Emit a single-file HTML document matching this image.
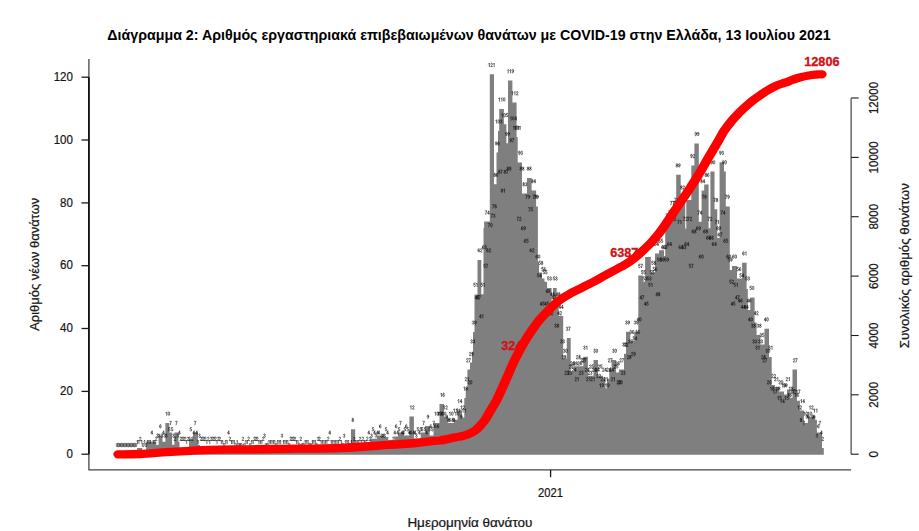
<!DOCTYPE html>
<html><head><meta charset="utf-8"><title>chart</title>
<style>
html,body{margin:0;padding:0;background:#fff;}
svg{display:block;font-family:"Liberation Sans",sans-serif;}
.ax line{stroke:#1c1c1c;}
.tl text{font-size:12px;fill:#161616;stroke:#161616;stroke-width:0.22px;}
.lb text{font-size:5.2px;fill:#000;stroke:#000;stroke-width:0.1px;text-anchor:middle;text-rendering:geometricPrecision;}
.rd text{font-size:12.7px;font-weight:bold;fill:#d01218;stroke:#d01218;stroke-width:0.35px;}
</style></head><body>
<svg width="919" height="531" viewBox="0 0 919 531">
<rect width="919" height="531" fill="#fff"/>
<text x="107.3" y="39.6" font-size="14" font-weight="bold" fill="#000" textLength="723.4" lengthAdjust="spacingAndGlyphs">Διάγραμμα 2: Αριθμός εργαστηριακά επιβεβαιωμένων θανάτων με COVID-19 στην Ελλάδα, 13 Ιουλίου 2021</text>
<polygon points="137.1,454.7 137.1,448.0 142.2,448.0 142.2,451.0 146.2,451.0 146.2,441.8 156.3,441.8 156.3,445.0 158.6,445.0 158.6,435.6 162.5,435.6 162.5,441.8 165.4,441.8 165.4,423.0 169.3,423.0 169.3,432.4 172.1,432.4 172.1,444.8 174.4,444.8 174.4,432.4 178.4,432.4 178.4,441.8 179.5,441.8 179.5,448.5 189.0,448.5 189.0,438.7 193.0,438.7 193.0,432.4 198.0,432.4 198.0,445.0 200.0,445.0 200.0,448.5 351.0,448.5 351.0,429.2 355.2,429.2 355.2,445.5 370.2,445.5 370.2,438.7 377.0,438.7 377.0,435.5 383.8,435.5 383.8,437.0 388.3,437.0 388.3,442.5 394.3,442.5 394.3,436.5 398.0,436.5 398.0,432.4 404.0,432.4 404.0,435.5 409.4,435.5 409.4,416.6 413.9,416.6 413.9,438.6 420.7,438.6 420.7,432.4 425.2,432.4 425.2,426.0 429.7,426.0 429.7,435.5 433.5,435.5 433.5,422.9 439.5,422.9 439.5,404.0 444.0,404.0 444.0,416.6 447.8,416.6 447.8,422.9 453.8,422.9 453.8,419.7 457.6,419.7 457.6,410.3 462.0,410.3 462.0,417.6 464.3,417.6 464.3,398.0 465.7,398.0 465.7,387.8 467.4,387.8 467.4,369.4 470.0,369.4 470.0,362.5 472.0,362.5 472.0,352.0 473.0,352.0 473.0,332.0 474.5,332.0 474.5,294.5 477.5,294.5 477.5,260.0 481.3,260.0 481.3,294.2 483.5,294.2 483.5,228.0 484.1,228.0 484.1,221.6 489.8,221.6 489.8,74.3 494.0,74.3 494.0,184.2 496.5,184.2 496.5,152.5 498.0,152.5 498.0,131.0 499.2,131.0 499.2,108.9 503.9,108.9 503.9,124.3 506.4,124.3 506.4,143.2 508.0,143.2 508.0,80.5 512.4,80.5 512.4,102.5 516.6,102.5 516.6,137.0 517.7,137.0 517.7,162.4 522.0,162.4 522.0,193.6 527.0,193.6 527.0,178.0 531.6,178.0 531.6,190.6 536.1,190.6 536.1,206.4 537.9,206.4 537.9,262.6 539.0,262.6 539.0,272.4 542.0,272.4 542.0,278.5 544.5,278.5 544.5,281.8 547.1,281.8 547.1,288.0 551.6,288.0 551.6,303.5 553.0,303.5 553.0,288.0 556.7,288.0 556.7,303.5 558.6,303.5 558.6,316.0 563.2,316.0 563.2,358.7 566.8,358.7 566.8,338.0 570.7,338.0 570.7,372.0 573.7,372.0 573.7,366.2 583.3,366.2 583.3,356.8 587.9,356.8 587.9,375.7 593.5,375.7 593.5,360.0 598.0,360.0 598.0,375.7 603.0,375.7 603.0,378.8 605.4,378.8 605.4,388.2 607.0,388.2 607.0,378.8 609.3,378.8 609.3,369.4 611.6,369.4 611.6,360.0 616.1,360.0 616.1,372.5 618.9,372.5 618.9,369.4 624.0,369.4 624.0,353.7 626.0,353.7 626.0,331.8 630.3,331.8 630.3,341.1 634.3,341.1 634.3,331.8 638.3,331.8 638.3,275.6 642.9,275.6 642.9,281.6 645.1,281.6 645.1,257.0 650.8,257.0 650.8,272.5 655.0,272.5 655.0,253.6 659.0,253.6 659.0,250.2 664.0,250.2 664.0,256.0 665.2,256.0 665.2,226.0 670.0,226.0 670.0,212.5 674.3,212.5 674.3,212.5 676.2,212.5 676.2,174.8 680.7,174.8 680.7,197.0 685.2,197.0 685.2,228.4 686.3,228.4 686.3,200.0 691.3,200.0 691.3,165.5 694.4,165.5 694.4,143.5 698.8,143.5 698.8,221.7 701.6,221.7 701.6,190.5 704.2,190.5 704.2,184.4 708.6,184.4 708.6,228.2 710.4,228.2 710.4,171.6 714.5,171.6 714.5,209.3 717.3,209.3 717.3,238.0 719.6,238.0 719.6,162.3 724.0,162.3 724.0,171.6 725.8,171.6 725.8,206.4 729.8,206.4 729.8,270.0 732.0,270.0 732.0,266.0 737.0,266.0 737.0,278.5 742.1,278.5 742.1,262.8 746.6,262.8 746.6,289.0 747.8,289.0 747.8,310.0 750.3,310.0 750.3,297.6 754.6,297.6 754.6,322.5 756.6,322.5 756.6,335.0 760.5,335.0 760.5,344.4 764.5,344.4 764.5,328.7 769.0,328.7 769.0,357.0 771.7,357.0 771.7,385.0 775.0,385.0 775.0,387.0 779.0,387.0 779.0,391.5 784.0,391.5 784.0,394.5 787.0,394.5 787.0,389.5 790.2,389.5 790.2,397.8 792.5,397.8 792.5,369.5 797.0,369.5 797.0,400.8 799.9,400.8 799.9,410.4 803.9,410.4 803.9,423.0 807.9,423.0 807.9,416.7 815.2,416.7 815.2,419.8 816.9,419.8 816.9,432.4 822.0,432.4 822.0,448.0 823.8,448.0 823.8,454.7" fill="#7f7f7f"/>
<defs><path id="d0" d="M.4,1.3Q.4,0 1.5,0Q2.6,0 2.6,1.3V3.7Q2.6,5 1.5,5Q.4,5 .4,3.7Z"/><path id="d1" d="M.6,1.3L1.8,0V5"/><path id="d2" d="M.4,1.2Q.5,0 1.5,0Q2.6,0 2.6,1.3Q2.6,2.2 1.6,3.2L.4,5H2.7"/><path id="d3" d="M.4,.9Q.7,0 1.5,0Q2.5,0 2.5,1.2Q2.5,2.3 1.3,2.4Q2.7,2.5 2.7,3.7Q2.7,5 1.5,5Q.6,5 .3,4.1"/><path id="d4" d="M2.1,5V0L.2,3.6H2.9"/><path id="d5" d="M2.5,0H.7L.5,2.3Q.9,1.9 1.6,1.9Q2.7,1.9 2.7,3.4Q2.7,5 1.5,5Q.6,5 .3,4.2"/><path id="d6" d="M2.5,.8Q2.2,0 1.6,0Q.4,0 .4,2.6V3.6Q.4,5 1.55,5Q2.7,5 2.7,3.5Q2.7,2.1 1.55,2.1Q.6,2.1 .4,3"/><path id="d7" d="M.3,0H2.7Q1.3,2.2 1.1,5"/><path id="d8" d="M1.5,2.3Q.5,2.2 .5,1.15Q.5,0 1.5,0Q2.5,0 2.5,1.15Q2.5,2.2 1.5,2.3Q2.8,2.4 2.8,3.7Q2.8,5 1.5,5Q.2,5 .2,3.7Q.2,2.4 1.5,2.3"/><path id="d9" d="M2.6,2Q2.4,2.9 1.45,2.9Q.3,2.9 .3,1.5Q.3,0 1.45,0Q2.6,0 2.6,1.4V2.4Q2.6,5 1.4,5Q.8,5 .5,4.2"/></defs><g transform="scale(0.7)" fill="none" stroke="#111" stroke-width="0.86" stroke-linecap="round" stroke-linejoin="round"><use href="#d0" x="165.74" y="633.29"/><use href="#d0" x="167.81" y="633.29"/><use href="#d0" x="169.87" y="633.29"/><use href="#d0" x="171.94" y="633.29"/><use href="#d0" x="174.01" y="633.29"/><use href="#d0" x="176.07" y="633.29"/><use href="#d0" x="178.14" y="633.29"/><use href="#d0" x="180.20" y="633.29"/><use href="#d0" x="182.27" y="633.29"/><use href="#d0" x="184.33" y="633.29"/><use href="#d0" x="186.40" y="633.29"/><use href="#d0" x="188.47" y="633.29"/><use href="#d0" x="190.53" y="633.29"/><use href="#d0" x="192.60" y="633.29"/><use href="#d1" x="194.66" y="628.80"/><use href="#d1" x="196.73" y="628.80"/><use href="#d2" x="198.79" y="624.31"/><use href="#d1" x="200.86" y="628.80"/><use href="#d0" x="202.93" y="633.29"/><use href="#d1" x="204.99" y="628.80"/><use href="#d0" x="207.06" y="633.29"/><use href="#d1" x="209.12" y="628.80"/><use href="#d1" x="211.19" y="628.80"/><use href="#d1" x="213.25" y="628.80"/><use href="#d4" x="215.32" y="615.33"/><use href="#d1" x="217.39" y="628.80"/><use href="#d1" x="219.45" y="628.80"/><use href="#d2" x="221.52" y="624.31"/><use href="#d3" x="223.58" y="619.82"/><use href="#d3" x="225.65" y="619.82"/><use href="#d6" x="227.71" y="606.36"/><use href="#d3" x="229.78" y="619.82"/><use href="#d4" x="231.85" y="615.33"/><use href="#d3" x="233.91" y="619.82"/><use href="#d3" x="235.98" y="619.82"/><use href="#d1" x="236.33" y="588.40"/><use href="#d0" x="239.76" y="588.40"/><use href="#d5" x="240.11" y="610.85"/><use href="#d7" x="242.17" y="601.87"/><use href="#d5" x="244.24" y="610.85"/><use href="#d3" x="246.31" y="619.82"/><use href="#d2" x="248.37" y="624.31"/><use href="#d7" x="250.44" y="601.87"/><use href="#d3" x="252.50" y="619.82"/><use href="#d4" x="254.57" y="615.33"/><use href="#d2" x="256.63" y="624.31"/><use href="#d2" x="258.70" y="624.31"/><use href="#d2" x="260.77" y="624.31"/><use href="#d2" x="262.83" y="624.31"/><use href="#d1" x="264.90" y="628.80"/><use href="#d2" x="266.96" y="624.31"/><use href="#d2" x="269.03" y="624.31"/><use href="#d5" x="271.09" y="610.85"/><use href="#d2" x="273.16" y="624.31"/><use href="#d4" x="275.23" y="615.33"/><use href="#d7" x="277.29" y="601.87"/><use href="#d4" x="279.36" y="615.33"/><use href="#d1" x="281.42" y="628.80"/><use href="#d3" x="283.49" y="619.82"/><use href="#d2" x="285.55" y="624.31"/><use href="#d2" x="287.62" y="624.31"/><use href="#d2" x="289.69" y="624.31"/><use href="#d2" x="291.75" y="624.31"/><use href="#d1" x="293.82" y="628.80"/><use href="#d2" x="295.88" y="624.31"/><use href="#d1" x="297.95" y="628.80"/><use href="#d2" x="300.01" y="624.31"/><use href="#d2" x="302.08" y="624.31"/><use href="#d2" x="304.15" y="624.31"/><use href="#d2" x="306.21" y="624.31"/><use href="#d1" x="308.28" y="628.80"/><use href="#d2" x="310.34" y="624.31"/><use href="#d2" x="312.41" y="624.31"/><use href="#d1" x="314.47" y="628.80"/><use href="#d1" x="316.54" y="628.80"/><use href="#d0" x="318.61" y="633.29"/><use href="#d1" x="320.67" y="628.80"/><use href="#d1" x="322.74" y="628.80"/><use href="#d4" x="324.80" y="615.33"/><use href="#d2" x="326.87" y="624.31"/><use href="#d1" x="328.93" y="628.80"/><use href="#d1" x="331.00" y="628.80"/><use href="#d1" x="333.07" y="628.80"/><use href="#d0" x="335.13" y="633.29"/><use href="#d1" x="337.20" y="628.80"/><use href="#d0" x="339.26" y="633.29"/><use href="#d0" x="341.33" y="633.29"/><use href="#d0" x="343.39" y="633.29"/><use href="#d2" x="345.46" y="624.31"/><use href="#d0" x="347.53" y="633.29"/><use href="#d1" x="349.59" y="628.80"/><use href="#d1" x="351.66" y="628.80"/><use href="#d2" x="353.72" y="624.31"/><use href="#d0" x="355.79" y="633.29"/><use href="#d1" x="357.85" y="628.80"/><use href="#d1" x="359.92" y="628.80"/><use href="#d2" x="361.99" y="624.31"/><use href="#d2" x="364.05" y="624.31"/><use href="#d2" x="366.12" y="624.31"/><use href="#d1" x="368.18" y="628.80"/><use href="#d1" x="370.25" y="628.80"/><use href="#d1" x="372.31" y="628.80"/><use href="#d2" x="374.38" y="624.31"/><use href="#d3" x="376.45" y="619.82"/><use href="#d0" x="378.51" y="633.29"/><use href="#d0" x="380.58" y="633.29"/><use href="#d1" x="382.64" y="628.80"/><use href="#d1" x="384.71" y="628.80"/><use href="#d1" x="386.77" y="628.80"/><use href="#d1" x="388.84" y="628.80"/><use href="#d1" x="390.91" y="628.80"/><use href="#d0" x="392.97" y="633.29"/><use href="#d1" x="395.04" y="628.80"/><use href="#d1" x="397.10" y="628.80"/><use href="#d1" x="399.17" y="628.80"/><use href="#d3" x="401.23" y="619.82"/><use href="#d1" x="403.30" y="628.80"/><use href="#d1" x="405.37" y="628.80"/><use href="#d1" x="407.43" y="628.80"/><use href="#d1" x="409.50" y="628.80"/><use href="#d0" x="411.56" y="633.29"/><use href="#d2" x="413.63" y="624.31"/><use href="#d2" x="415.69" y="624.31"/><use href="#d2" x="417.76" y="624.31"/><use href="#d2" x="419.83" y="624.31"/><use href="#d1" x="421.89" y="628.80"/><use href="#d1" x="423.96" y="628.80"/><use href="#d0" x="426.02" y="633.29"/><use href="#d2" x="428.09" y="624.31"/><use href="#d0" x="430.15" y="633.29"/><use href="#d0" x="432.22" y="633.29"/><use href="#d1" x="434.29" y="628.80"/><use href="#d1" x="436.35" y="628.80"/><use href="#d1" x="438.42" y="628.80"/><use href="#d0" x="440.48" y="633.29"/><use href="#d0" x="442.55" y="633.29"/><use href="#d1" x="444.61" y="628.80"/><use href="#d1" x="446.68" y="628.80"/><use href="#d1" x="448.75" y="628.80"/><use href="#d0" x="450.81" y="633.29"/><use href="#d2" x="452.88" y="624.31"/><use href="#d2" x="454.94" y="624.31"/><use href="#d1" x="457.01" y="628.80"/><use href="#d1" x="459.07" y="628.80"/><use href="#d1" x="461.14" y="628.80"/><use href="#d1" x="463.21" y="628.80"/><use href="#d1" x="465.27" y="628.80"/><use href="#d2" x="467.34" y="624.31"/><use href="#d4" x="469.40" y="615.33"/><use href="#d1" x="471.47" y="628.80"/><use href="#d1" x="473.53" y="628.80"/><use href="#d1" x="475.60" y="628.80"/><use href="#d1" x="477.67" y="628.80"/><use href="#d1" x="479.73" y="628.80"/><use href="#d1" x="481.80" y="628.80"/><use href="#d2" x="483.86" y="624.31"/><use href="#d1" x="485.93" y="628.80"/><use href="#d0" x="487.99" y="633.29"/><use href="#d3" x="490.06" y="619.82"/><use href="#d1" x="492.13" y="628.80"/><use href="#d1" x="494.19" y="628.80"/><use href="#d1" x="496.26" y="628.80"/><use href="#d0" x="498.32" y="633.29"/><use href="#d1" x="500.39" y="628.80"/><use href="#d8" x="502.45" y="597.38"/><use href="#d2" x="504.52" y="624.31"/><use href="#d1" x="506.59" y="628.80"/><use href="#d1" x="508.65" y="628.80"/><use href="#d1" x="510.72" y="628.80"/><use href="#d2" x="512.78" y="624.31"/><use href="#d1" x="514.85" y="628.80"/><use href="#d2" x="516.91" y="624.31"/><use href="#d1" x="518.98" y="628.80"/><use href="#d1" x="521.05" y="628.80"/><use href="#d2" x="523.11" y="624.31"/><use href="#d4" x="525.18" y="615.33"/><use href="#d2" x="527.24" y="624.31"/><use href="#d3" x="529.31" y="619.82"/><use href="#d5" x="531.37" y="610.85"/><use href="#d4" x="533.44" y="615.33"/><use href="#d3" x="535.51" y="619.82"/><use href="#d4" x="537.57" y="615.33"/><use href="#d4" x="539.64" y="615.33"/><use href="#d6" x="541.70" y="606.36"/><use href="#d3" x="543.77" y="619.82"/><use href="#d3" x="545.83" y="619.82"/><use href="#d3" x="547.90" y="619.82"/><use href="#d5" x="549.97" y="610.85"/><use href="#d4" x="552.03" y="615.33"/><use href="#d1" x="554.10" y="628.80"/><use href="#d1" x="556.16" y="628.80"/><use href="#d1" x="558.23" y="628.80"/><use href="#d2" x="560.29" y="624.31"/><use href="#d4" x="562.36" y="615.33"/><use href="#d6" x="564.43" y="606.36"/><use href="#d4" x="566.49" y="615.33"/><use href="#d5" x="568.56" y="610.85"/><use href="#d7" x="570.62" y="601.87"/><use href="#d4" x="572.69" y="615.33"/><use href="#d4" x="574.75" y="615.33"/><use href="#d5" x="576.82" y="610.85"/><use href="#d6" x="578.89" y="606.36"/><use href="#d5" x="580.95" y="610.85"/><use href="#d4" x="583.02" y="615.33"/><use href="#d4" x="585.08" y="615.33"/><use href="#d1" x="585.43" y="579.43"/><use href="#d2" x="588.86" y="579.43"/><use href="#d4" x="589.21" y="615.33"/><use href="#d4" x="591.28" y="615.33"/><use href="#d3" x="593.35" y="619.82"/><use href="#d5" x="595.41" y="610.85"/><use href="#d4" x="597.48" y="615.33"/><use href="#d5" x="599.54" y="610.85"/><use href="#d5" x="601.61" y="610.85"/><use href="#d7" x="603.67" y="601.87"/><use href="#d5" x="605.74" y="610.85"/><use href="#d4" x="607.81" y="615.33"/><use href="#d9" x="609.87" y="592.89"/><use href="#d5" x="611.94" y="610.85"/><use href="#d6" x="614.00" y="606.36"/><use href="#d5" x="616.07" y="610.85"/><use href="#d7" x="618.13" y="601.87"/><use href="#d6" x="620.20" y="606.36"/><use href="#d1" x="620.55" y="588.40"/><use href="#d0" x="623.98" y="588.40"/><use href="#d6" x="624.33" y="606.36"/><use href="#d1" x="624.68" y="588.40"/><use href="#d0" x="628.11" y="588.40"/><use href="#d1" x="626.75" y="588.40"/><use href="#d0" x="630.18" y="588.40"/><use href="#d1" x="628.81" y="561.48"/><use href="#d6" x="632.24" y="561.48"/><use href="#d1" x="630.88" y="588.40"/><use href="#d0" x="634.31" y="588.40"/><use href="#d1" x="632.95" y="579.43"/><use href="#d2" x="636.37" y="579.43"/><use href="#d9" x="636.73" y="592.89"/><use href="#d8" x="638.79" y="597.38"/><use href="#d8" x="640.86" y="597.38"/><use href="#d1" x="641.21" y="588.40"/><use href="#d0" x="644.64" y="588.40"/><use href="#d8" x="644.99" y="597.38"/><use href="#d8" x="647.05" y="597.38"/><use href="#d1" x="647.41" y="583.92"/><use href="#d1" x="650.83" y="583.92"/><use href="#d1" x="649.47" y="588.40"/><use href="#d0" x="652.90" y="588.40"/><use href="#d1" x="651.54" y="583.92"/><use href="#d1" x="654.97" y="583.92"/><use href="#d1" x="653.60" y="570.45"/><use href="#d4" x="657.03" y="570.45"/><use href="#d9" x="657.38" y="592.89"/><use href="#d1" x="657.73" y="579.43"/><use href="#d2" x="661.16" y="579.43"/><use href="#d1" x="659.80" y="583.92"/><use href="#d1" x="663.23" y="583.92"/><use href="#d1" x="661.87" y="552.50"/><use href="#d8" x="665.29" y="552.50"/><use href="#d2" x="663.93" y="539.03"/><use href="#d1" x="667.36" y="539.03"/><use href="#d2" x="666.00" y="512.11"/><use href="#d7" x="669.43" y="512.11"/><use href="#d2" x="668.06" y="543.52"/><use href="#d0" x="671.49" y="543.52"/><use href="#d2" x="670.13" y="503.13"/><use href="#d9" x="673.56" y="503.13"/><use href="#d3" x="672.19" y="485.18"/><use href="#d3" x="675.62" y="485.18"/><use href="#d3" x="674.26" y="458.25"/><use href="#d9" x="677.69" y="458.25"/><use href="#d5" x="676.33" y="404.39"/><use href="#d1" x="679.75" y="404.39"/><use href="#d4" x="678.39" y="422.34"/><use href="#d7" x="681.82" y="422.34"/><use href="#d4" x="680.46" y="422.34"/><use href="#d7" x="683.89" y="422.34"/><use href="#d6" x="682.52" y="355.02"/><use href="#d2" x="685.95" y="355.02"/><use href="#d4" x="684.59" y="449.27"/><use href="#d1" x="688.02" y="449.27"/><use href="#d5" x="686.65" y="404.39"/><use href="#d1" x="690.08" y="404.39"/><use href="#d6" x="688.72" y="350.53"/><use href="#d3" x="692.15" y="350.53"/><use href="#d5" x="690.79" y="377.46"/><use href="#d7" x="694.21" y="377.46"/><use href="#d7" x="692.85" y="301.16"/><use href="#d4" x="696.28" y="301.16"/><use href="#d6" x="694.92" y="355.02"/><use href="#d2" x="698.35" y="355.02"/><use href="#d7" x="696.98" y="319.12"/><use href="#d0" x="700.41" y="319.12"/><use href="#d1" x="697.33" y="90.22"/><use href="#d2" x="700.76" y="90.22"/><use href="#d1" x="704.19" y="90.22"/><use href="#d7" x="701.11" y="305.65"/><use href="#d3" x="704.54" y="305.65"/><use href="#d7" x="703.18" y="292.19"/><use href="#d6" x="706.61" y="292.19"/><use href="#d8" x="705.25" y="247.31"/><use href="#d6" x="708.67" y="247.31"/><use href="#d9" x="707.31" y="202.42"/><use href="#d6" x="710.74" y="202.42"/><use href="#d1" x="707.66" y="171.01"/><use href="#d0" x="711.09" y="171.01"/><use href="#d3" x="714.52" y="171.01"/><use href="#d8" x="711.44" y="242.82"/><use href="#d7" x="714.87" y="242.82"/><use href="#d1" x="711.79" y="139.59"/><use href="#d1" x="715.22" y="139.59"/><use href="#d0" x="718.65" y="139.59"/><use href="#d8" x="715.57" y="269.75"/><use href="#d1" x="719.00" y="269.75"/><use href="#d1" x="715.93" y="162.03"/><use href="#d0" x="719.35" y="162.03"/><use href="#d5" x="722.78" y="162.03"/><use href="#d8" x="719.71" y="242.82"/><use href="#d7" x="723.13" y="242.82"/><use href="#d9" x="721.77" y="188.96"/><use href="#d9" x="725.20" y="188.96"/><use href="#d8" x="723.84" y="238.33"/><use href="#d8" x="727.27" y="238.33"/><use href="#d1" x="724.19" y="99.20"/><use href="#d1" x="727.62" y="99.20"/><use href="#d9" x="731.05" y="99.20"/><use href="#d9" x="727.97" y="197.94"/><use href="#d7" x="731.40" y="197.94"/><use href="#d1" x="728.32" y="166.52"/><use href="#d0" x="731.75" y="166.52"/><use href="#d4" x="735.18" y="166.52"/><use href="#d1" x="730.39" y="130.61"/><use href="#d1" x="733.81" y="130.61"/><use href="#d2" x="737.24" y="130.61"/><use href="#d1" x="732.45" y="179.98"/><use href="#d0" x="735.88" y="179.98"/><use href="#d1" x="739.31" y="179.98"/><use href="#d1" x="734.52" y="179.98"/><use href="#d0" x="737.95" y="179.98"/><use href="#d1" x="741.37" y="179.98"/><use href="#d7" x="738.30" y="310.14"/><use href="#d2" x="741.73" y="310.14"/><use href="#d9" x="740.36" y="215.89"/><use href="#d3" x="743.79" y="215.89"/><use href="#d8" x="742.43" y="238.33"/><use href="#d8" x="745.86" y="238.33"/><use href="#d6" x="744.49" y="323.60"/><use href="#d9" x="747.92" y="323.60"/><use href="#d8" x="746.56" y="260.77"/><use href="#d3" x="749.99" y="260.77"/><use href="#d6" x="748.63" y="341.56"/><use href="#d5" x="752.05" y="341.56"/><use href="#d7" x="750.69" y="278.72"/><use href="#d9" x="754.12" y="278.72"/><use href="#d8" x="752.76" y="238.33"/><use href="#d8" x="756.19" y="238.33"/><use href="#d7" x="754.82" y="296.68"/><use href="#d5" x="758.25" y="296.68"/><use href="#d6" x="756.89" y="355.02"/><use href="#d2" x="760.32" y="355.02"/><use href="#d8" x="758.95" y="256.28"/><use href="#d4" x="762.38" y="256.28"/><use href="#d7" x="761.02" y="278.72"/><use href="#d9" x="764.45" y="278.72"/><use href="#d7" x="763.09" y="278.72"/><use href="#d9" x="766.51" y="278.72"/><use href="#d6" x="765.15" y="364.00"/><use href="#d0" x="768.58" y="364.00"/><use href="#d5" x="767.22" y="390.93"/><use href="#d4" x="770.65" y="390.93"/><use href="#d5" x="769.28" y="372.97"/><use href="#d8" x="772.71" y="372.97"/><use href="#d4" x="771.35" y="431.32"/><use href="#d5" x="774.78" y="431.32"/><use href="#d5" x="773.41" y="381.95"/><use href="#d6" x="776.84" y="381.95"/><use href="#d5" x="775.48" y="386.44"/><use href="#d5" x="778.91" y="386.44"/><use href="#d4" x="777.55" y="431.32"/><use href="#d5" x="780.97" y="431.32"/><use href="#d4" x="779.61" y="413.37"/><use href="#d9" x="783.04" y="413.37"/><use href="#d5" x="781.68" y="395.41"/><use href="#d3" x="785.11" y="395.41"/><use href="#d4" x="783.74" y="444.78"/><use href="#d2" x="787.17" y="444.78"/><use href="#d4" x="785.81" y="417.85"/><use href="#d8" x="789.24" y="417.85"/><use href="#d4" x="787.87" y="422.34"/><use href="#d7" x="791.30" y="422.34"/><use href="#d5" x="789.94" y="395.41"/><use href="#d3" x="793.37" y="395.41"/><use href="#d3" x="792.01" y="462.74"/><use href="#d8" x="795.43" y="462.74"/><use href="#d4" x="794.07" y="417.85"/><use href="#d8" x="797.50" y="417.85"/><use href="#d4" x="796.14" y="444.78"/><use href="#d2" x="799.57" y="444.78"/><use href="#d4" x="798.20" y="435.81"/><use href="#d4" x="801.63" y="435.81"/><use href="#d3" x="800.27" y="485.18"/><use href="#d3" x="803.70" y="485.18"/><use href="#d2" x="802.33" y="507.62"/><use href="#d8" x="805.76" y="507.62"/><use href="#d3" x="804.40" y="498.64"/><use href="#d0" x="807.83" y="498.64"/><use href="#d2" x="806.47" y="530.06"/><use href="#d3" x="809.89" y="530.06"/><use href="#d3" x="808.53" y="467.22"/><use href="#d7" x="811.96" y="467.22"/><use href="#d2" x="810.60" y="530.06"/><use href="#d3" x="814.03" y="530.06"/><use href="#d2" x="812.66" y="521.08"/><use href="#d5" x="816.09" y="521.08"/><use href="#d2" x="814.73" y="516.59"/><use href="#d6" x="818.16" y="516.59"/><use href="#d2" x="816.79" y="525.57"/><use href="#d4" x="820.22" y="525.57"/><use href="#d2" x="818.86" y="516.59"/><use href="#d6" x="822.29" y="516.59"/><use href="#d2" x="820.93" y="539.03"/><use href="#d1" x="824.35" y="539.03"/><use href="#d2" x="822.99" y="507.62"/><use href="#d8" x="826.42" y="507.62"/><use href="#d2" x="825.06" y="516.59"/><use href="#d6" x="828.49" y="516.59"/><use href="#d2" x="827.12" y="530.06"/><use href="#d3" x="830.55" y="530.06"/><use href="#d2" x="829.19" y="512.11"/><use href="#d7" x="832.62" y="512.11"/><use href="#d2" x="831.25" y="512.11"/><use href="#d7" x="834.68" y="512.11"/><use href="#d3" x="833.32" y="494.15"/><use href="#d1" x="836.75" y="494.15"/><use href="#d2" x="835.39" y="525.57"/><use href="#d4" x="838.81" y="525.57"/><use href="#d2" x="837.45" y="539.03"/><use href="#d1" x="840.88" y="539.03"/><use href="#d2" x="839.52" y="530.06"/><use href="#d3" x="842.95" y="530.06"/><use href="#d2" x="841.58" y="521.08"/><use href="#d5" x="845.01" y="521.08"/><use href="#d2" x="843.65" y="539.03"/><use href="#d1" x="847.08" y="539.03"/><use href="#d2" x="845.71" y="525.57"/><use href="#d4" x="849.14" y="525.57"/><use href="#d3" x="847.78" y="498.64"/><use href="#d0" x="851.21" y="498.64"/><use href="#d2" x="849.85" y="525.57"/><use href="#d4" x="853.27" y="525.57"/><use href="#d2" x="851.91" y="534.55"/><use href="#d2" x="855.34" y="534.55"/><use href="#d2" x="853.98" y="521.08"/><use href="#d5" x="857.41" y="521.08"/><use href="#d1" x="856.04" y="548.01"/><use href="#d9" x="859.47" y="548.01"/><use href="#d2" x="858.11" y="539.03"/><use href="#d1" x="861.54" y="539.03"/><use href="#d2" x="860.17" y="525.57"/><use href="#d4" x="863.60" y="525.57"/><use href="#d2" x="862.24" y="539.03"/><use href="#d1" x="865.67" y="539.03"/><use href="#d1" x="864.31" y="548.01"/><use href="#d9" x="867.73" y="548.01"/><use href="#d2" x="866.37" y="525.57"/><use href="#d4" x="869.80" y="525.57"/><use href="#d2" x="868.44" y="512.11"/><use href="#d7" x="871.87" y="512.11"/><use href="#d2" x="870.50" y="525.57"/><use href="#d4" x="873.93" y="525.57"/><use href="#d2" x="872.57" y="539.03"/><use href="#d1" x="876.00" y="539.03"/><use href="#d3" x="874.63" y="498.64"/><use href="#d0" x="878.06" y="498.64"/><use href="#d2" x="876.70" y="521.08"/><use href="#d5" x="880.13" y="521.08"/><use href="#d2" x="878.77" y="516.59"/><use href="#d6" x="882.19" y="516.59"/><use href="#d2" x="880.83" y="543.52"/><use href="#d0" x="884.26" y="543.52"/><use href="#d2" x="882.90" y="543.52"/><use href="#d0" x="886.33" y="543.52"/><use href="#d2" x="884.96" y="512.11"/><use href="#d7" x="888.39" y="512.11"/><use href="#d2" x="887.03" y="530.06"/><use href="#d3" x="890.46" y="530.06"/><use href="#d3" x="889.09" y="489.67"/><use href="#d2" x="892.52" y="489.67"/><use href="#d3" x="891.16" y="489.67"/><use href="#d2" x="894.59" y="489.67"/><use href="#d3" x="893.23" y="458.25"/><use href="#d9" x="896.65" y="458.25"/><use href="#d2" x="895.29" y="507.62"/><use href="#d8" x="898.72" y="507.62"/><use href="#d3" x="897.36" y="485.18"/><use href="#d3" x="900.79" y="485.18"/><use href="#d3" x="899.42" y="471.71"/><use href="#d6" x="902.85" y="471.71"/><use href="#d2" x="901.49" y="503.13"/><use href="#d9" x="904.92" y="503.13"/><use href="#d3" x="903.55" y="480.69"/><use href="#d4" x="906.98" y="480.69"/><use href="#d3" x="905.62" y="458.25"/><use href="#d9" x="909.05" y="458.25"/><use href="#d3" x="907.69" y="471.71"/><use href="#d6" x="911.11" y="471.71"/><use href="#d4" x="909.75" y="453.76"/><use href="#d0" x="913.18" y="453.76"/><use href="#d5" x="911.82" y="377.46"/><use href="#d7" x="915.25" y="377.46"/><use href="#d4" x="913.88" y="422.34"/><use href="#d7" x="917.31" y="422.34"/><use href="#d5" x="915.95" y="386.44"/><use href="#d5" x="919.38" y="386.44"/><use href="#d5" x="918.01" y="395.41"/><use href="#d3" x="921.44" y="395.41"/><use href="#d4" x="920.08" y="431.32"/><use href="#d5" x="923.51" y="431.32"/><use href="#d6" x="922.15" y="350.53"/><use href="#d3" x="925.57" y="350.53"/><use href="#d5" x="924.21" y="395.41"/><use href="#d3" x="927.64" y="395.41"/><use href="#d5" x="926.28" y="404.39"/><use href="#d1" x="929.71" y="404.39"/><use href="#d5" x="928.34" y="386.44"/><use href="#d5" x="931.77" y="386.44"/><use href="#d5" x="930.41" y="372.97"/><use href="#d8" x="933.84" y="372.97"/><use href="#d5" x="932.47" y="381.95"/><use href="#d6" x="935.90" y="381.95"/><use href="#d6" x="934.54" y="346.04"/><use href="#d4" x="937.97" y="346.04"/><use href="#d4" x="936.61" y="417.85"/><use href="#d8" x="940.03" y="417.85"/><use href="#d5" x="938.67" y="368.49"/><use href="#d9" x="942.10" y="368.49"/><use href="#d6" x="940.74" y="341.56"/><use href="#d5" x="944.17" y="341.56"/><use href="#d5" x="942.80" y="368.49"/><use href="#d9" x="946.23" y="368.49"/><use href="#d6" x="944.87" y="350.53"/><use href="#d3" x="948.30" y="350.53"/><use href="#d6" x="946.93" y="350.53"/><use href="#d3" x="950.36" y="350.53"/><use href="#d5" x="949.00" y="368.49"/><use href="#d9" x="952.43" y="368.49"/><use href="#d7" x="951.07" y="305.65"/><use href="#d3" x="954.49" y="305.65"/><use href="#d6" x="953.13" y="346.04"/><use href="#d4" x="956.56" y="346.04"/><use href="#d7" x="955.20" y="301.16"/><use href="#d4" x="958.63" y="301.16"/><use href="#d7" x="957.26" y="287.70"/><use href="#d7" x="960.69" y="287.70"/><use href="#d7" x="959.33" y="310.14"/><use href="#d2" x="962.76" y="310.14"/><use href="#d7" x="961.39" y="287.70"/><use href="#d7" x="964.82" y="287.70"/><use href="#d7" x="963.46" y="283.21"/><use href="#d8" x="966.89" y="283.21"/><use href="#d8" x="965.53" y="233.84"/><use href="#d9" x="968.95" y="233.84"/><use href="#d7" x="967.59" y="314.63"/><use href="#d1" x="971.02" y="314.63"/><use href="#d6" x="969.66" y="350.53"/><use href="#d3" x="973.09" y="350.53"/><use href="#d8" x="971.72" y="265.26"/><use href="#d2" x="975.15" y="265.26"/><use href="#d6" x="973.79" y="350.53"/><use href="#d3" x="977.22" y="350.53"/><use href="#d7" x="975.85" y="310.14"/><use href="#d2" x="979.28" y="310.14"/><use href="#d6" x="977.92" y="346.04"/><use href="#d4" x="981.35" y="346.04"/><use href="#d8" x="979.99" y="269.75"/><use href="#d1" x="983.41" y="269.75"/><use href="#d7" x="982.05" y="310.14"/><use href="#d2" x="985.48" y="310.14"/><use href="#d5" x="984.12" y="377.46"/><use href="#d7" x="987.55" y="377.46"/><use href="#d9" x="986.18" y="220.38"/><use href="#d2" x="989.61" y="220.38"/><use href="#d6" x="988.25" y="328.09"/><use href="#d8" x="991.68" y="328.09"/><use href="#d8" x="990.31" y="256.28"/><use href="#d4" x="993.74" y="256.28"/><use href="#d9" x="992.38" y="188.96"/><use href="#d9" x="995.81" y="188.96"/><use href="#d6" x="994.45" y="323.60"/><use href="#d9" x="997.87" y="323.60"/><use href="#d7" x="996.51" y="301.16"/><use href="#d4" x="999.94" y="301.16"/><use href="#d6" x="998.58" y="364.00"/><use href="#d0" x="1002.01" y="364.00"/><use href="#d8" x="1000.64" y="256.28"/><use href="#d4" x="1004.07" y="256.28"/><use href="#d7" x="1002.71" y="278.72"/><use href="#d9" x="1006.14" y="278.72"/><use href="#d6" x="1004.77" y="328.09"/><use href="#d8" x="1008.20" y="328.09"/><use href="#d8" x="1006.84" y="247.31"/><use href="#d6" x="1010.27" y="247.31"/><use href="#d6" x="1008.91" y="337.07"/><use href="#d6" x="1012.33" y="337.07"/><use href="#d7" x="1010.97" y="310.14"/><use href="#d2" x="1014.40" y="310.14"/><use href="#d6" x="1013.04" y="337.07"/><use href="#d6" x="1016.47" y="337.07"/><use href="#d9" x="1015.10" y="229.35"/><use href="#d0" x="1018.53" y="229.35"/><use href="#d6" x="1017.17" y="346.04"/><use href="#d4" x="1020.60" y="346.04"/><use href="#d7" x="1019.23" y="283.21"/><use href="#d8" x="1022.66" y="283.21"/><use href="#d7" x="1021.30" y="314.63"/><use href="#d1" x="1024.73" y="314.63"/><use href="#d6" x="1023.37" y="323.60"/><use href="#d9" x="1026.79" y="323.60"/><use href="#d6" x="1025.43" y="332.58"/><use href="#d7" x="1028.86" y="332.58"/><use href="#d9" x="1027.50" y="215.89"/><use href="#d3" x="1030.93" y="215.89"/><use href="#d7" x="1029.56" y="301.16"/><use href="#d4" x="1032.99" y="301.16"/><use href="#d9" x="1031.63" y="229.35"/><use href="#d0" x="1035.06" y="229.35"/><use href="#d6" x="1033.69" y="341.56"/><use href="#d5" x="1037.12" y="341.56"/><use href="#d7" x="1035.76" y="278.72"/><use href="#d9" x="1039.19" y="278.72"/><use href="#d6" x="1037.83" y="364.00"/><use href="#d0" x="1041.25" y="364.00"/><use href="#d5" x="1039.89" y="368.49"/><use href="#d9" x="1043.32" y="368.49"/><use href="#d5" x="1041.96" y="399.90"/><use href="#d2" x="1045.39" y="399.90"/><use href="#d4" x="1044.02" y="431.32"/><use href="#d5" x="1047.45" y="431.32"/><use href="#d6" x="1046.09" y="364.00"/><use href="#d0" x="1049.52" y="364.00"/><use href="#d5" x="1048.15" y="404.39"/><use href="#d1" x="1051.58" y="404.39"/><use href="#d4" x="1050.22" y="422.34"/><use href="#d7" x="1053.65" y="422.34"/><use href="#d5" x="1052.29" y="381.95"/><use href="#d6" x="1055.71" y="381.95"/><use href="#d4" x="1054.35" y="426.83"/><use href="#d6" x="1057.78" y="426.83"/><use href="#d5" x="1056.42" y="390.93"/><use href="#d4" x="1059.85" y="390.93"/><use href="#d4" x="1058.48" y="435.81"/><use href="#d4" x="1061.91" y="435.81"/><use href="#d6" x="1060.55" y="359.51"/><use href="#d1" x="1063.98" y="359.51"/><use href="#d4" x="1062.61" y="435.81"/><use href="#d4" x="1066.04" y="435.81"/><use href="#d5" x="1064.68" y="395.41"/><use href="#d3" x="1068.11" y="395.41"/><use href="#d4" x="1066.75" y="426.83"/><use href="#d6" x="1070.17" y="426.83"/><use href="#d4" x="1068.81" y="453.76"/><use href="#d0" x="1072.24" y="453.76"/><use href="#d5" x="1070.88" y="408.88"/><use href="#d0" x="1074.31" y="408.88"/><use href="#d3" x="1072.94" y="462.74"/><use href="#d8" x="1076.37" y="462.74"/><use href="#d3" x="1075.01" y="485.18"/><use href="#d3" x="1078.44" y="485.18"/><use href="#d4" x="1077.07" y="444.78"/><use href="#d2" x="1080.50" y="444.78"/><use href="#d3" x="1079.14" y="494.15"/><use href="#d1" x="1082.57" y="494.15"/><use href="#d3" x="1081.21" y="462.74"/><use href="#d8" x="1084.63" y="462.74"/><use href="#d3" x="1083.27" y="485.18"/><use href="#d3" x="1086.70" y="485.18"/><use href="#d3" x="1085.34" y="476.20"/><use href="#d5" x="1088.77" y="476.20"/><use href="#d2" x="1087.40" y="507.62"/><use href="#d8" x="1090.83" y="507.62"/><use href="#d2" x="1089.47" y="512.11"/><use href="#d7" x="1092.90" y="512.11"/><use href="#d4" x="1091.53" y="453.76"/><use href="#d0" x="1094.96" y="453.76"/><use href="#d3" x="1093.60" y="498.64"/><use href="#d0" x="1097.03" y="498.64"/><use href="#d2" x="1095.67" y="543.52"/><use href="#d0" x="1099.09" y="543.52"/><use href="#d3" x="1097.73" y="494.15"/><use href="#d1" x="1101.16" y="494.15"/><use href="#d1" x="1099.80" y="552.50"/><use href="#d8" x="1103.23" y="552.50"/><use href="#d2" x="1101.86" y="534.55"/><use href="#d2" x="1105.29" y="534.55"/><use href="#d1" x="1103.93" y="556.99"/><use href="#d7" x="1107.36" y="556.99"/><use href="#d2" x="1105.99" y="539.03"/><use href="#d1" x="1109.42" y="539.03"/><use href="#d1" x="1108.06" y="552.50"/><use href="#d8" x="1111.49" y="552.50"/><use href="#d1" x="1110.13" y="565.96"/><use href="#d5" x="1113.55" y="565.96"/><use href="#d2" x="1112.19" y="543.52"/><use href="#d0" x="1115.62" y="543.52"/><use href="#d1" x="1114.26" y="570.45"/><use href="#d4" x="1117.69" y="570.45"/><use href="#d1" x="1116.32" y="548.01"/><use href="#d9" x="1119.75" y="548.01"/><use href="#d1" x="1118.39" y="548.01"/><use href="#d9" x="1121.82" y="548.01"/><use href="#d1" x="1120.45" y="565.96"/><use href="#d5" x="1123.88" y="565.96"/><use href="#d2" x="1122.52" y="539.03"/><use href="#d1" x="1125.95" y="539.03"/><use href="#d1" x="1124.59" y="561.48"/><use href="#d6" x="1128.01" y="561.48"/><use href="#d1" x="1126.65" y="552.50"/><use href="#d8" x="1130.08" y="552.50"/><use href="#d1" x="1128.72" y="556.99"/><use href="#d7" x="1132.15" y="556.99"/><use href="#d1" x="1130.78" y="556.99"/><use href="#d7" x="1134.21" y="556.99"/><use href="#d2" x="1132.85" y="512.11"/><use href="#d7" x="1136.28" y="512.11"/><use href="#d1" x="1134.91" y="561.48"/><use href="#d6" x="1138.34" y="561.48"/><use href="#d1" x="1136.98" y="556.99"/><use href="#d7" x="1140.41" y="556.99"/><use href="#d1" x="1139.05" y="579.43"/><use href="#d2" x="1142.47" y="579.43"/><use href="#d8" x="1142.83" y="597.38"/><use href="#d1" x="1143.18" y="570.45"/><use href="#d4" x="1146.61" y="570.45"/><use href="#d7" x="1146.96" y="601.87"/><use href="#d1" x="1147.31" y="588.40"/><use href="#d0" x="1150.74" y="588.40"/><use href="#d9" x="1151.09" y="592.89"/><use href="#d9" x="1153.15" y="592.89"/><use href="#d1" x="1153.51" y="588.40"/><use href="#d0" x="1156.93" y="588.40"/><use href="#d1" x="1155.57" y="579.43"/><use href="#d2" x="1159.00" y="579.43"/><use href="#d9" x="1159.35" y="592.89"/><use href="#d9" x="1161.42" y="592.89"/><use href="#d1" x="1161.77" y="583.92"/><use href="#d1" x="1165.20" y="583.92"/><use href="#d3" x="1165.55" y="619.82"/><use href="#d6" x="1167.61" y="606.36"/><use href="#d7" x="1169.68" y="601.87"/><use href="#d4" x="1171.75" y="615.33"/><use href="#d2" x="1173.81" y="624.31"/></g>
<g class="rd">
<text x="804.2" y="65.9" textLength="35.4" lengthAdjust="spacingAndGlyphs">12806</text>
<text x="610.2" y="256.9" textLength="28.2" lengthAdjust="spacingAndGlyphs">6387</text>
<text x="501.2" y="350.0" textLength="21.1" lengthAdjust="spacingAndGlyphs">324</text>
</g>
<g transform="scale(1.13,1)"><path d="M104.42,454.30C107.67,454.25 116.74,454.35 123.89,454.00C131.05,453.65 139.97,452.73 147.35,452.20C154.72,451.67 161.73,451.20 168.14,450.80C174.56,450.40 176.99,450.05 185.84,449.80C194.69,449.55 207.96,449.48 221.24,449.30C234.51,449.12 252.21,448.92 265.49,448.70C278.76,448.48 289.09,448.53 300.88,448.00C312.68,447.47 325.96,446.25 336.28,445.50C346.61,444.75 355.50,444.20 362.83,443.50C370.16,442.80 375.84,441.80 380.27,441.30C384.69,440.80 385.60,441.15 389.38,440.50C393.16,439.85 399.59,438.15 402.92,437.40C406.25,436.65 407.15,436.70 409.38,436.00C411.61,435.30 414.45,434.10 416.28,433.20C418.11,432.30 418.94,431.80 420.35,430.60C421.77,429.40 423.27,427.82 424.78,426.00C426.28,424.18 427.91,422.12 429.38,419.70C430.86,417.28 431.96,414.72 433.63,411.50C435.29,408.28 437.61,404.22 439.38,400.40C441.15,396.58 442.58,392.73 444.25,388.60C445.91,384.47 447.82,379.62 449.38,375.60C450.94,371.58 452.12,368.17 453.63,364.50C455.13,360.83 456.50,357.68 458.41,353.60C460.31,349.52 462.76,344.27 465.04,340.00C467.33,335.73 470.13,331.25 472.12,328.00C474.12,324.75 475.18,322.97 476.99,320.50C478.81,318.03 480.84,315.77 483.01,313.20C485.18,310.63 487.67,307.50 490.00,305.10C492.33,302.70 494.65,300.67 496.99,298.80C499.34,296.93 501.73,295.38 504.07,293.90C506.42,292.42 508.73,291.23 511.06,289.90C513.39,288.57 515.72,287.22 518.05,285.90C520.38,284.58 523.20,283.08 525.04,282.00C526.89,280.92 527.27,280.57 529.12,279.40C530.96,278.23 533.78,276.45 536.11,275.00C538.44,273.55 540.77,272.10 543.10,270.70C545.43,269.30 547.74,268.08 550.09,266.60C552.43,265.12 554.82,263.65 557.17,261.80C559.51,259.95 561.83,257.75 564.16,255.50C566.49,253.25 568.82,250.85 571.15,248.30C573.48,245.75 575.78,243.22 578.14,240.20C580.50,237.18 582.18,235.07 585.31,230.20C588.44,225.33 592.86,217.70 596.90,211.00C600.94,204.30 605.94,196.17 609.56,190.00C613.17,183.83 615.63,179.50 618.58,174.00C621.53,168.50 624.32,162.67 627.26,157.00C630.19,151.33 633.97,144.30 636.19,140.00C638.42,135.70 638.66,134.48 640.62,131.20C642.58,127.92 645.81,123.27 647.96,120.30C650.12,117.33 651.68,115.55 653.54,113.40C655.40,111.25 656.98,109.57 659.12,107.40C661.25,105.23 664.00,102.50 666.37,100.40C668.75,98.30 671.28,96.43 673.36,94.80C675.44,93.17 676.59,92.10 678.85,90.60C681.11,89.10 684.26,87.12 686.90,85.80C689.54,84.48 692.45,83.62 694.69,82.70C696.93,81.78 698.69,81.00 700.35,80.30C702.02,79.60 703.20,79.05 704.69,78.50C706.18,77.95 707.63,77.47 709.29,77.00C710.96,76.53 712.99,76.05 714.69,75.70C716.39,75.35 717.80,75.12 719.47,74.90C721.14,74.68 723.38,74.50 724.69,74.40C726.00,74.30 726.90,74.32 727.35,74.30" fill="none" stroke="#ff0000" stroke-width="8.3" stroke-linecap="round" stroke-linejoin="round"/></g>
<g class="ax">
<path d="M88.9,58.9V469.9H851.1" fill="none" stroke="#454545" stroke-width="1.3"/><path d="M88.9,77.2V454.2" fill="none" stroke="#101010" stroke-width="1.7"/>
<g stroke-width="1.3"><line x1="81.5" y1="454.2" x2="88.9" y2="454.2"/><line x1="81.5" y1="391.4" x2="88.9" y2="391.4"/><line x1="81.5" y1="328.5" x2="88.9" y2="328.5"/><line x1="81.5" y1="265.7" x2="88.9" y2="265.7"/><line x1="81.5" y1="202.9" x2="88.9" y2="202.9"/><line x1="81.5" y1="140.0" x2="88.9" y2="140.0"/><line x1="81.5" y1="77.2" x2="88.9" y2="77.2"/><line x1="550.6" y1="469.9" x2="550.6" y2="477.2"/></g>
<path d="M851.1,98.3V454.3" fill="none" stroke="#333" stroke-width="1.1"/>
<g stroke-width="1.1"><line x1="851.1" y1="454.2" x2="858.7" y2="454.2"/><line x1="851.1" y1="394.8" x2="858.7" y2="394.8"/><line x1="851.1" y1="335.5" x2="858.7" y2="335.5"/><line x1="851.1" y1="276.1" x2="858.7" y2="276.1"/><line x1="851.1" y1="216.7" x2="858.7" y2="216.7"/><line x1="851.1" y1="157.4" x2="858.7" y2="157.4"/><line x1="851.1" y1="98.0" x2="858.7" y2="98.0"/></g>
</g>
<g class="tl">
<text x="66.5" y="457.8" textLength="6.4" lengthAdjust="spacingAndGlyphs">0</text><text x="60.1" y="395.0" textLength="12.8" lengthAdjust="spacingAndGlyphs">20</text><text x="60.1" y="332.1" textLength="12.8" lengthAdjust="spacingAndGlyphs">40</text><text x="60.1" y="269.3" textLength="12.8" lengthAdjust="spacingAndGlyphs">60</text><text x="60.1" y="206.5" textLength="12.8" lengthAdjust="spacingAndGlyphs">80</text><text x="53.7" y="143.6" textLength="19.2" lengthAdjust="spacingAndGlyphs">100</text><text x="53.7" y="80.8" textLength="19.2" lengthAdjust="spacingAndGlyphs">120</text>
<text transform="translate(878.2,457.4) rotate(-90)" textLength="6.5" lengthAdjust="spacingAndGlyphs">0</text><text transform="translate(878.2,407.7) rotate(-90)" textLength="25.8" lengthAdjust="spacingAndGlyphs">2000</text><text transform="translate(878.2,348.4) rotate(-90)" textLength="25.8" lengthAdjust="spacingAndGlyphs">4000</text><text transform="translate(878.2,289.0) rotate(-90)" textLength="25.8" lengthAdjust="spacingAndGlyphs">6000</text><text transform="translate(878.2,229.6) rotate(-90)" textLength="25.8" lengthAdjust="spacingAndGlyphs">8000</text><text transform="translate(878.2,173.5) rotate(-90)" textLength="32.2" lengthAdjust="spacingAndGlyphs">10000</text><text transform="translate(878.2,114.1) rotate(-90)" textLength="32.2" lengthAdjust="spacingAndGlyphs">12000</text>
<text x="538.1" y="497" textLength="25" lengthAdjust="spacingAndGlyphs">2021</text>
<text x="407.4" y="527" font-size="12.7" textLength="125" lengthAdjust="spacingAndGlyphs">Ημερομηνία θανάτου</text>
<text transform="translate(39.2,330.8) rotate(-90)" font-size="12.6" textLength="133" lengthAdjust="spacingAndGlyphs">Αριθμός νέων θανάτων</text>
<text transform="translate(908.6,348.2) rotate(-90)" font-size="12.7" textLength="165" lengthAdjust="spacingAndGlyphs">Συνολικός αριθμός θανάτων</text>
</g>
</svg>
</body></html>
